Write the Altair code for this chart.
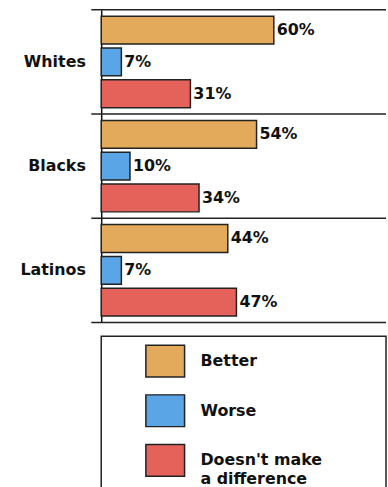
import altair as alt
import pandas as pd

groups = ["Whites", "Blacks", "Latinos"]
categories = ["Better", "Worse", "Doesn't make a difference"]
better = [60, 54, 44]
worse = [7, 10, 7]
no_difference = [31, 34, 47]
legend_labels = ["Better", "Worse", "Doesn't make\na difference"]
colors = ["#E3AA5B", "#5AA5E6", "#E4625A"]

rows = []
for i, g in enumerate(groups):
    for c, vals in zip(categories, [better, worse, no_difference]):
        rows.append({"group": g, "category": c, "value": vals[i], "label": f"{vals[i]}%"})
df = pd.DataFrame(rows)

FONT = "DejaVu Sans"
INK = "#111111"
W, H = 287, 315
color_scale = alt.Scale(domain=categories, range=colors)

y_axis = alt.Axis(title=None, ticks=False, domain=True, domainColor=INK, domainWidth=1.5,
                  labelFont=FONT, labelFontSize=16, labelFontWeight="bold", labelColor=INK,
                  labelPadding=16)
y_scale = alt.Scale(paddingInner=0, paddingOuter=0)
y = alt.Y("group:N", sort=groups, scale=y_scale, axis=y_axis)
yoff = alt.YOffset("category:N", sort=categories, scale=alt.Scale(paddingInner=0.125, paddingOuter=0.2))
x = alt.X("value:Q", scale=alt.Scale(domain=[0, 99], nice=False), axis=None)

bars = alt.Chart(df).mark_bar(stroke="#222222", strokeWidth=1.5).encode(
    x=x, y=y, yOffset=yoff,
    color=alt.Color("category:N", scale=color_scale, legend=None))
labels = alt.Chart(df).mark_text(align="left", baseline="middle", dx=3, font=FONT, fontSize=16,
                                 fontWeight="bold", color=INK).encode(
    x=x, y=y, yOffset=yoff, text="label:N")

sep = alt.Chart(pd.DataFrame({"group": groups})).mark_rule(color="#222222", strokeWidth=1.5).encode(
    y=alt.Y("group:N", sort=groups, scale=y_scale, axis=y_axis, bandPosition=0),
    x=alt.value(-10), x2=alt.value(W))
bottom = alt.Chart(pd.DataFrame({"group": groups[-1:]})).mark_rule(color="#222222", strokeWidth=1.5).encode(
    y=alt.Y("group:N", sort=groups, scale=y_scale, axis=y_axis, bandPosition=1),
    x=alt.value(-10), x2=alt.value(W))

top = alt.layer(sep, bottom, bars, labels).properties(
    width=W, height=H, view=alt.ViewBackground(stroke="transparent"))

leg_df = pd.DataFrame({"category": categories, "text": legend_labels})
ly = alt.Y("category:N", sort=categories,
           scale=alt.Scale(range=[0, 150], paddingInner=0, paddingOuter=0), axis=None)
swatch = alt.Chart(leg_df).mark_bar(height=32, stroke="#222222", strokeWidth=1.5).encode(
    x=alt.value(45), x2=alt.value(84), y=ly,
    color=alt.Color("category:N", scale=color_scale, legend=None))
ltext = alt.Chart(leg_df).mark_text(align="left", baseline="middle", lineBreak="\n", lineHeight=19,
                                    font=FONT, fontSize=16, fontWeight="bold", color=INK).encode(
    x=alt.value(100), y=ly, text="text:N")
legend = alt.layer(swatch, ltext).properties(
    width=W, height=160, view=alt.ViewBackground(stroke="#222222", strokeWidth=1.5))

chart = alt.vconcat(top, legend, spacing=11).properties(
    padding={"left": 19, "top": 6, "right": 0, "bottom": 0},
    background="white")

chart.save("out.html", embed_options={"renderer": "svg", "actions": False})
